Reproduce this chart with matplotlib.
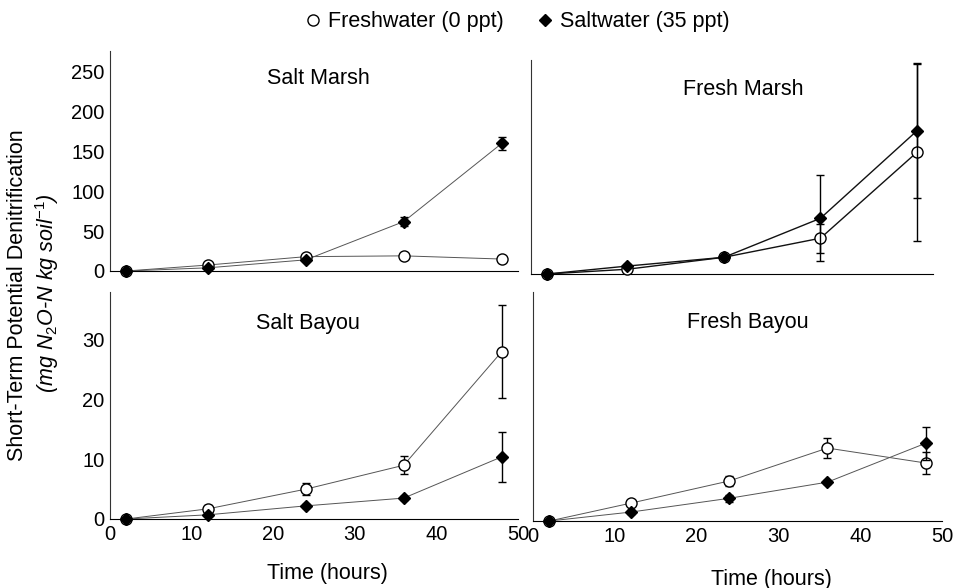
import numpy as np
import matplotlib
matplotlib.use("Agg")
import matplotlib.pyplot as plt
from matplotlib.lines import Line2D

plt.rcParams['font.family'] = ['Liberation Sans', 'DejaVu Sans']
plt.rcParams['mathtext.fontset'] = 'custom'
plt.rcParams['mathtext.rm'] = 'Liberation Sans'
plt.rcParams['mathtext.it'] = 'Liberation Sans:italic'

# sampling times (hours)
hours = [2, 12, 24, 36, 48]

# salt marsh
sm_fresh = [0, 7.5, 18, 19, 15]
sm_fresh_err = [0, 1.5, 2, 4, 2]
sm_salt = [0, 4, 14, 62, 160]
sm_salt_err = [0, 1, 2, 6, 8]

# fresh marsh
fm_fresh = [0, 6, 21, 45, 153]
fm_fresh_err = [0, 2, 2, 18, 112]
fm_salt = [0, 10, 21, 70, 180]
fm_salt_err = [0, 2, 2, 54, 84]

# salt bayou
sb_fresh = [0, 1.7, 5.0, 9.0, 28.0]
sb_fresh_err = [0, 0.6, 1.0, 1.5, 7.8]
sb_salt = [0, 0.7, 2.2, 3.5, 10.4]
sb_salt_err = [0, 0.2, 0.3, 0.4, 4.2]

# fresh bayou
fb_fresh = [0, 3.0, 6.7, 12.2, 9.7]
fb_fresh_err = [0, 0.4, 0.9, 1.6, 1.9]
fb_salt = [0, 1.5, 3.8, 6.5, 13.0]
fb_salt_err = [0, 0.3, 0.6, 0.3, 2.8]

panel_names = ["Salt Marsh", "Fresh Marsh", "Salt Bayou", "Fresh Bayou"]
xtick_vals = [0, 10, 20, 30, 40, 50]
ytick_top = [0, 50, 100, 150, 200, 250]
ytick_bot = [0, 10, 20, 30]

fig = plt.figure(figsize=(9.55, 5.88), dpi=100)

W, H = 955.0, 588.0
def box(x0, y0, x1, y1):
    # pixel box -> figure fraction
    return [x0 / W, 1 - y1 / H, (x1 - x0) / W, (y1 - y0) / H]

ax_sm = fig.add_axes(box(110, 51, 518, 271))
ax_fm = fig.add_axes(box(531, 60, 933, 274))
ax_sb = fig.add_axes(box(110, 292, 518, 519))
ax_fb = fig.add_axes(box(533, 292, 942, 521))

panels = [
    (ax_sm, sm_fresh, sm_fresh_err, sm_salt, sm_salt_err, (0, 276), (0.51, 0.873), '#555555', 0.7),
    (ax_fm, fm_fresh, fm_fresh_err, fm_salt, fm_salt_err, (0, 269), (0.527, 0.86), '#111111', 1.0),
    (ax_sb, sb_fresh, sb_fresh_err, sb_salt, sb_salt_err, (0, 38), (0.485, 0.863), '#555555', 0.7),
    (ax_fb, fb_fresh, fb_fresh_err, fb_salt, fb_salt_err, (0, 38.3), (0.526, 0.865), '#555555', 0.7),
]

for i, (ax, fr, fre, sa, sae, ylim, tpos, lc, lw) in enumerate(panels):
    ax.plot(hours, fr, color=lc, lw=lw, zorder=2)
    ax.plot(hours, sa, color=lc, lw=lw, zorder=2)
    ax.errorbar(hours, fr, yerr=fre, fmt='o', mfc='white', mec='black', mew=1.0,
                ms=8, ecolor='black', elinewidth=1, capsize=3, zorder=3, clip_on=False)
    ax.errorbar(hours, sa, yerr=sae, fmt='D', mfc='black', mec='black',
                ms=6.5, ecolor='black', elinewidth=1, capsize=3, zorder=4, clip_on=False)
    ax.set_xlim(0, 50)
    ax.set_ylim(*ylim)
    for s in ['top', 'right']:
        ax.spines[s].set_visible(False)
    ax.spines['left'].set_color('#333333')
    ax.spines['bottom'].set_color('black')
    ax.tick_params(length=0, labelsize=14.5, pad=4)
    ax.text(tpos[0], tpos[1], panel_names[i], transform=ax.transAxes,
            ha='center', va='center', fontsize=15.5)
    if i < 2:
        ax.set_xticks([])
    else:
        ax.set_xticks(xtick_vals)
    if i == 0:
        ax.set_yticks(ytick_top)
    elif i == 2:
        ax.set_yticks(ytick_bot)
    else:
        ax.set_yticks([])

# x labels sit at slightly different heights in the original
fig.text(327 / W, 1 - 574 / H, "Time (hours)", ha='center', va='center', fontsize=15.5)
fig.text(771 / W, 1 - 579 / H, "Time (hours)", ha='center', va='center', fontsize=15.5)

# y label, two lines
fig.text(18 / W, 1 - 295 / H, "Short-Term Potential Denitrification", rotation=90,
         ha='center', va='center', fontsize=15.5)
fig.text(47 / W, 1 - 293 / H, r"(mg N$_2$O-N kg soil$^{-1}$)", rotation=90,
         ha='center', va='center', fontsize=15.5, fontstyle='italic')

# legend across the top
handles = [
    Line2D([], [], ls='none', marker='o', mfc='white', mec='black', ms=8, mew=1.0),
    Line2D([], [], ls='none', marker='D', mfc='black', mec='black', ms=6.5),
]
fig.legend(handles, ["Freshwater (0 ppt)", "Saltwater (35 ppt)"], loc='center',
           bbox_to_anchor=(516 / W, 1 - 22 / H), ncol=2, frameon=False, fontsize=15.5,
           handletextpad=0.2, columnspacing=1.4, handlelength=1.0)

fig.savefig("out.png", dpi=100)
